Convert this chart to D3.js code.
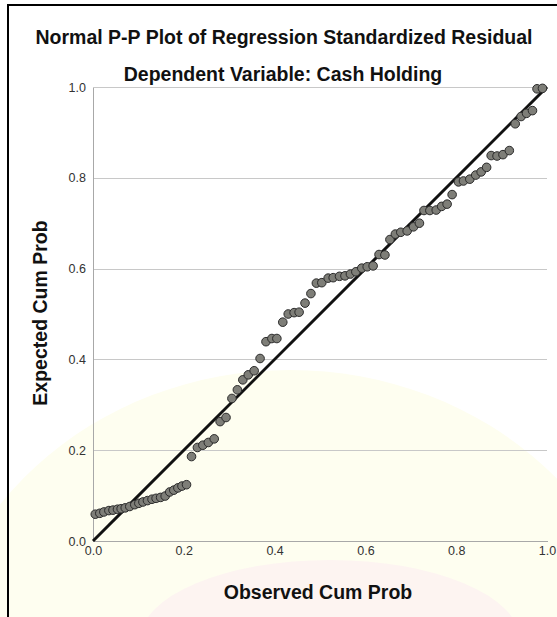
<!DOCTYPE html>
<html lang="en">
<head>
<meta charset="UTF-8" />
<title>Normal P-P Plot</title>
<style>
  body { margin: 0; background: #fff; }
  svg { display: block; font-family: 'Liberation Sans', Arial, sans-serif; }
  .grid line { stroke: #c8c8c8; stroke-width: 1px; shape-rendering: crispEdges; }
  .grid path { display: none; }
  .axis path, .axis line { stroke: #a8a8a8; shape-rendering: crispEdges; }
  .axis text { fill: #333; font-size: 12.5px; }
  .dot { fill: #7e7e78; stroke: #2a2a2a; stroke-width: 1px; }
  .diag { stroke: #111; stroke-width: 3px; }
  .ttl { font-size: 19.5px; font-weight: bold; fill: #111; }
</style>
</head>
<body>
<svg width="557" height="617"></svg>
<script src="https://d3js.org/d3.v7.min.js"></script>
<script>
// --- values
const observed = [
  .005, .015, .024, .035, .044, .054, .062, .071, .081, .092, .101, .110, .120, .130, .139, .149, .159, .169, .178, .187, .196, .206,
  .217, .230, .242, .254, .267, .280, .293, .306, .318, .330, .342, .355, .368, .381, .394, .405, .418, .430, .443, .454,
  .467, .480, .492, .504, .518, .529, .543, .555, .567, .579, .592, .604, .617, .630, .643, .654, .666, .678, .692, .706,
  .719, .729, .742, .756, .768, .780, .791, .805, .816, .830, .843, .855, .867, .877, .890, .903, .917, .930, .943, .955,
  .968, .978, .990
];
const expected = [
  .059, .061, .064, .067, .068, .070, .071, .073, .076, .080, .083, .086, .089, .092, .094, .096, .099, .108, .112, .117, .121, .124,
  .186, .206, .211, .217, .225, .263, .272, .314, .333, .355, .366, .375, .402, .439, .446, .446, .482, .500, .503, .504,
  .524, .545, .568, .569, .579, .580, .583, .584, .588, .593, .601, .604, .606, .631, .630, .664, .676, .680, .683, .692,
  .700, .728, .728, .729, .737, .742, .763, .791, .793, .797, .806, .813, .823, .849, .848, .851, .860, .919, .935, .942,
  .948, .996, .997
];
const xTicks = [0, 0.2, 0.4, 0.6, 0.8, 1.0];
const yTicks = [0, 0.2, 0.4, 0.6, 0.8, 1.0];

const title = "Normal P-P Plot of Regression Standardized Residual";
const subtitle = "Dependent Variable: Cash Holding";
const xLabel = "Observed Cum Prob";
const yLabel = "Expected Cum Prob";

const data = observed.map((o, i) => ({ o, e: expected[i] }));

// --- layout
const svg = d3.select("svg");
const plot = { left: 93, right: 547, top: 87, bottom: 541 };

const x = d3.scaleLinear().domain([0, 1]).range([plot.left, plot.right]);
const y = d3.scaleLinear().domain([0, 1]).range([plot.bottom, plot.top]);

// faint watermark tint behind the lower half
svg.append("ellipse").attr("cx", 290).attr("cy", 700).attr("rx", 360).attr("ry", 330)
  .attr("fill", "#fefef0");
svg.append("ellipse").attr("cx", 330).attr("cy", 640).attr("rx", 190).attr("ry", 80)
  .attr("fill", "#fdf4f1");

// outer frame (cut off at right/bottom in the picture)
svg.append("rect")
  .attr("x", 8).attr("y", 5).attr("width", 560).attr("height", 630)
  .attr("fill", "none").attr("stroke", "#000").attr("stroke-width", 2);

// titles
svg.append("text").attr("class", "ttl").attr("x", 284).attr("y", 44)
  .attr("text-anchor", "middle").text(title);
svg.append("text").attr("class", "ttl").attr("x", 283).attr("y", 81)
  .attr("text-anchor", "middle").text(subtitle);

// horizontal grid
svg.append("g").attr("class", "grid")
  .attr("transform", `translate(${plot.left},0)`)
  .call(d3.axisLeft(y).tickValues(yTicks.slice(1)).tickSize(-(plot.right - plot.left)).tickFormat(""));

// axes
svg.append("g").attr("class", "axis")
  .attr("transform", `translate(0,${plot.bottom})`)
  .call(d3.axisBottom(x).tickValues(xTicks).tickSize(0).tickPadding(5).tickFormat(d3.format(".1f")));
svg.append("g").attr("class", "axis")
  .attr("transform", `translate(${plot.left},0)`)
  .call(d3.axisLeft(y).tickValues(yTicks).tickSize(0).tickPadding(7).tickFormat(d3.format(".1f")));

// reference diagonal
svg.append("line").attr("class", "diag")
  .attr("x1", x(0)).attr("y1", y(0)).attr("x2", x(1)).attr("y2", y(1));

// points
svg.append("g").selectAll("circle").data(data).join("circle")
  .attr("class", "dot")
  .attr("cx", d => x(d.o)).attr("cy", d => y(d.e)).attr("r", 4.3);

// axis titles
svg.append("text").attr("class", "ttl").attr("x", 318).attr("y", 599)
  .attr("text-anchor", "middle").text(xLabel);
svg.append("text").attr("class", "ttl").attr("transform", "translate(47,313) rotate(-90)")
  .attr("text-anchor", "middle").text(yLabel);
</script>
</body>
</html>
